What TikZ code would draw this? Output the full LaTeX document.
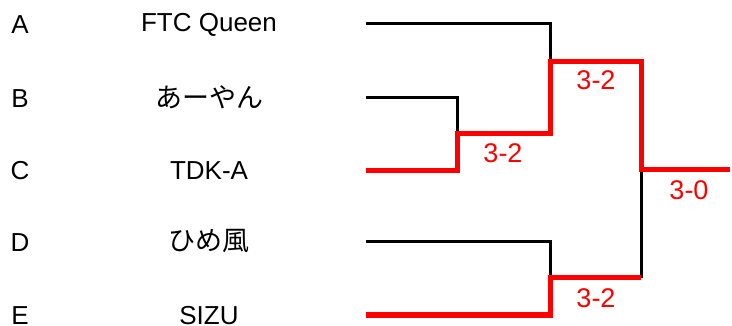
\documentclass[tikz,border=0pt]{standalone}
\usepackage{fontspec}
\setmainfont{Liberation Sans}
\newfontfamily\jpfont{Noto Sans CJK JP}
\begin{document}
\begin{tikzpicture}[x=1pt,y=-1pt,
  lbl/.style={font=\fontsize{26}{28}\selectfont, anchor=center, inner sep=0pt},
  jlbl/.style={font=\fontsize{27}{29}\selectfont\jpfont, anchor=center, inner sep=0pt},
  score/.style={font=\fontsize{27}{29}\selectfont, text=red, anchor=center, inner sep=0pt},
  loser/.style={draw=black, line width=3pt},
  winner/.style={draw=red, line width=5pt, line join=miter}]
\useasboundingbox (0,0) rectangle (732,326);
% letters
\node[lbl] (la) at (20,25) {A};
\node[lbl] (lb) at (20,99) {B};
\node[lbl] (lc) at (20,171) {C};
\node[lbl] (ld) at (20,243) {D};
\node[lbl] (le) at (20,316) {E};
% teams
\node[lbl] (ta) at (209,25) {FTC Queen};
\node[jlbl] (tb) at (209,97) {あーやん};
\node[lbl] (tc) at (209,171) {TDK-A};
\node[jlbl] (td) at (209,241) {ひめ風};
\node[lbl] (te) at (209,316) {SIZU};
% line coordinates
\coordinate (a0) at (366,24);
\coordinate (a1) at (550,24);
\coordinate (b0) at (366,98);
\coordinate (b1) at (457,98);
\coordinate (c0) at (366,171);
\coordinate (c1) at (457,171);
\coordinate (bc) at (457,134);
\coordinate (bc1) at (550,134);
\coordinate (abc) at (550,62);
\coordinate (abc1) at (641,62);
\coordinate (d0) at (366,242);
\coordinate (d1) at (550,242);
\coordinate (e0) at (366,315);
\coordinate (e1) at (550,315);
\coordinate (de) at (550,278);
\coordinate (de1) at (641,278);
\coordinate (f) at (641,170);
\coordinate (f1) at (730,170);
% losers
\draw[loser] (a0) -- (a1) -- (abc);
\draw[loser] (b0) -- (b1) -- (bc);
\draw[loser] (d0) -- (d1) -- (de);
\draw[loser] (de1) -- (f);
% winners
\draw[winner] (c0) -- (c1) -- (bc) -- (bc1) -- (abc) -- (abc1) -- (f) -- (f1);
\draw[winner] (e0) -- (e1) -- (de) -- (de1);
% scores
\node[score] (s1) at (503,153) {3-2};
\node[score] (s2) at (596,80) {3-2};
\node[score] (s3) at (689,190) {3-0};
\node[score] (s4) at (596,298) {3-2};
\end{tikzpicture}
\end{document}
